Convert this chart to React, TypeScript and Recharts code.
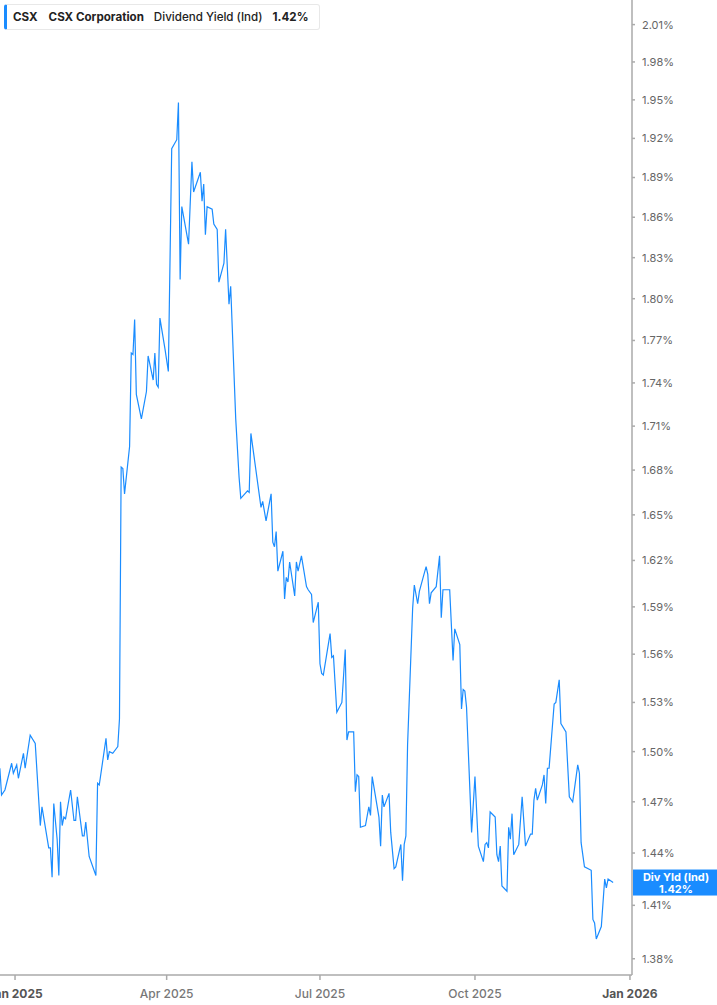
import React from "react"
import { LineChart, Line, XAxis, YAxis, ReferenceLine } from "recharts"

const dates = [
  "2024-12-23", "2024-12-24", "2024-12-26", "2024-12-30", "2024-12-31",
  "2025-01-02", "2025-01-03", "2025-01-06", "2025-01-07", "2025-01-10",
  "2025-01-13", "2025-01-16", "2025-01-17", "2025-01-21", "2025-01-22",
  "2025-01-23", "2025-01-24", "2025-01-26", "2025-01-27", "2025-01-28",
  "2025-01-29", "2025-01-30", "2025-01-31", "2025-02-03", "2025-02-05",
  "2025-02-06", "2025-02-07", "2025-02-10", "2025-02-11", "2025-02-12",
  "2025-02-14", "2025-02-18", "2025-02-19", "2025-02-20", "2025-02-24",
  "2025-02-25", "2025-02-26", "2025-02-28", "2025-03-03", "2025-03-04",
  "2025-03-05", "2025-03-06", "2025-03-07", "2025-03-10", "2025-03-11",
  "2025-03-12", "2025-03-13", "2025-03-14", "2025-03-17", "2025-03-20",
  "2025-03-21", "2025-03-24", "2025-03-25", "2025-03-26", "2025-03-27",
  "2025-03-28", "2025-03-31", "2025-04-02", "2025-04-04", "2025-04-07",
  "2025-04-08", "2025-04-09", "2025-04-10", "2025-04-14", "2025-04-16",
  "2025-04-17", "2025-04-21", "2025-04-22", "2025-04-23", "2025-04-24",
  "2025-04-25", "2025-04-28", "2025-04-29", "2025-05-01", "2025-05-02",
  "2025-05-05", "2025-05-06", "2025-05-08", "2025-05-09", "2025-05-12",
  "2025-05-14", "2025-05-15", "2025-05-19", "2025-05-20", "2025-05-21",
  "2025-05-27", "2025-05-28", "2025-05-30", "2025-06-02", "2025-06-03",
  "2025-06-04", "2025-06-05", "2025-06-06", "2025-06-09", "2025-06-10",
  "2025-06-11", "2025-06-12", "2025-06-13", "2025-06-16", "2025-06-17",
  "2025-06-18", "2025-06-20", "2025-06-23", "2025-06-24", "2025-06-26",
  "2025-06-27", "2025-06-30", "2025-07-01", "2025-07-02", "2025-07-03",
  "2025-07-07", "2025-07-08", "2025-07-09", "2025-07-11", "2025-07-14",
  "2025-07-16", "2025-07-17", "2025-07-18", "2025-07-21", "2025-07-22",
  "2025-07-23", "2025-07-24", "2025-07-25", "2025-07-28", "2025-07-30",
  "2025-07-31", "2025-08-01", "2025-08-05", "2025-08-06", "2025-08-07",
  "2025-08-08", "2025-08-11", "2025-08-12", "2025-08-14", "2025-08-15",
  "2025-08-18", "2025-08-19", "2025-08-20", "2025-08-21", "2025-08-22",
  "2025-08-25", "2025-08-26", "2025-08-28", "2025-08-29", "2025-08-31",
  "2025-09-02", "2025-09-03", "2025-09-04", "2025-09-05", "2025-09-08",
  "2025-09-10", "2025-09-11", "2025-09-12", "2025-09-15", "2025-09-16",
  "2025-09-18", "2025-09-19", "2025-09-22", "2025-09-23", "2025-09-24",
  "2025-09-25", "2025-09-26", "2025-09-29", "2025-10-01", "2025-10-03",
  "2025-10-06", "2025-10-07", "2025-10-08", "2025-10-09", "2025-10-10",
  "2025-10-13", "2025-10-14", "2025-10-15", "2025-10-16", "2025-10-17",
  "2025-10-20", "2025-10-21", "2025-10-22", "2025-10-23", "2025-10-24",
  "2025-10-27", "2025-10-29", "2025-10-31", "2025-11-03", "2025-11-04",
  "2025-11-05", "2025-11-06", "2025-11-07", "2025-11-10", "2025-11-11",
  "2025-11-12", "2025-11-13", "2025-11-14", "2025-11-17", "2025-11-18",
  "2025-11-20", "2025-11-21", "2025-11-24", "2025-11-26", "2025-11-28",
  "2025-12-01", "2025-12-02", "2025-12-03", "2025-12-05", "2025-12-09",
  "2025-12-10", "2025-12-11", "2025-12-12", "2025-12-15", "2025-12-17",
  "2025-12-18", "2025-12-19", "2025-12-22",
]

const yields = [
  1.490, 1.474, 1.477, 1.493, 1.487,
  1.492, 1.484, 1.499, 1.490, 1.510,
  1.505, 1.456, 1.467, 1.443, 1.443,
  1.426, 1.469, 1.448, 1.427, 1.470,
  1.456, 1.461, 1.460, 1.477, 1.459,
  1.459, 1.473, 1.450, 1.450, 1.458,
  1.438, 1.427, 1.481, 1.480, 1.508,
  1.495, 1.500, 1.499, 1.503, 1.520,
  1.682, 1.681, 1.664, 1.696, 1.761,
  1.760, 1.785, 1.732, 1.715, 1.734,
  1.759, 1.742, 1.761, 1.739, 1.737,
  1.786, 1.764, 1.748, 1.912, 1.919,
  1.948, 1.814, 1.868, 1.840, 1.902,
  1.879, 1.894, 1.872, 1.885, 1.847,
  1.868, 1.866, 1.855, 1.851, 1.812,
  1.826, 1.851, 1.796, 1.809, 1.715,
  1.675, 1.661, 1.666, 1.665, 1.705,
  1.655, 1.659, 1.646, 1.664, 1.632,
  1.629, 1.639, 1.613, 1.626, 1.595,
  1.609, 1.606, 1.619, 1.597, 1.619,
  1.613, 1.623, 1.603, 1.601, 1.598,
  1.580, 1.593, 1.554, 1.548, 1.547,
  1.573, 1.558, 1.559, 1.524, 1.530,
  1.563, 1.507, 1.512, 1.512, 1.476,
  1.486, 1.485, 1.455, 1.456, 1.467,
  1.462, 1.485, 1.461, 1.444, 1.474,
  1.467, 1.475, 1.452, 1.431, 1.432,
  1.445, 1.424, 1.445, 1.450, 1.504,
  1.589, 1.604, 1.592, 1.600, 1.608,
  1.616, 1.611, 1.592, 1.599, 1.603,
  1.623, 1.583, 1.601, 1.601, 1.601,
  1.556, 1.576, 1.566, 1.526, 1.538,
  1.537, 1.527, 1.452, 1.485, 1.444,
  1.435, 1.445, 1.446, 1.443, 1.464,
  1.461, 1.439, 1.435, 1.444, 1.421,
  1.418, 1.455, 1.448, 1.463, 1.439,
  1.445, 1.473, 1.444, 1.451, 1.451,
  1.471, 1.478, 1.471, 1.480, 1.486,
  1.469, 1.490, 1.490, 1.529, 1.530,
  1.544, 1.517, 1.512, 1.473, 1.470,
  1.492, 1.487, 1.446, 1.432, 1.430,
  1.402, 1.400, 1.391, 1.398, 1.425,
  1.420, 1.425, 1.423,
]

const yTicks = [
  1.38, 1.41, 1.44, 1.47, 1.5, 1.53, 1.56, 1.59, 1.62, 1.65, 1.68,
  1.71, 1.74, 1.77, 1.8, 1.83, 1.86, 1.89, 1.92, 1.95, 1.98, 2.01,
]

const xTickDates = ["2025-01-01", "2025-04-01", "2025-07-01", "2025-10-01", "2026-01-01"]
const xTickLabels = ["Jan 2025", "Apr 2025", "Jul 2025", "Oct 2025", "Jan 2026"]

const toTs = (d: string) => Date.parse(d + "T00:00:00Z")

const data = dates.map((d, i) => ({ t: toTs(d), v: yields[i] }))
const xTicks = xTickDates.map(toTs)
const last = yields[yields.length - 1]

const FONT = "Inter, 'Noto Sans', sans-serif"
const BLUE = "#1a8cff"

function XTick(props: any) {
  const { x, y, payload } = props
  const i = xTicks.indexOf(payload.value)
  const label = i >= 0 ? xTickLabels[i] : ""
  const isYear = label.startsWith("Jan")
  return (
    <text
      x={x}
      y={y + 16}
      textAnchor="middle"
      fontFamily={FONT}
      fontSize={12}
      fontWeight={isYear ? 700 : 500}
      fill={isYear ? "#555" : "#777"}
    >
      {label}
    </text>
  )
}

function LastValueLabel(props: any) {
  const { viewBox } = props
  const x = viewBox.x + viewBox.width + 1
  const cy = viewBox.y
  return (
    <g>
      <rect x={x} y={cy - 13} width={85} height={26} fill={BLUE} />
      <text x={x + 43} y={cy - 2} textAnchor="middle" fill="#fff" fontFamily={FONT} fontSize={11} fontWeight={700}>
        Div Yld (Ind)
      </text>
      <text x={x + 43} y={cy + 10} textAnchor="middle" fill="#fff" fontFamily={FONT} fontSize={11} fontWeight={700}>
        {last.toFixed(2)}%
      </text>
    </g>
  )
}

export default function App() {
  return (
    <div style={{ position: "absolute", left: 0, top: 0, width: 717, height: 1005, background: "#fff", fontFamily: FONT }}>
      <LineChart width={717} height={1005} data={data} margin={{ top: 0, right: 0, bottom: 0, left: 0 }}>
        <XAxis
          dataKey="t"
          type="number"
          scale="time"
          domain={[Date.UTC(2024, 11, 23, 2), Date.UTC(2026, 0, 2, 5)]}
          ticks={xTicks}
          tick={<XTick />}
          interval={0}
          height={30}
          stroke="#aaa"
          strokeWidth={1.5}
          tickSize={5}
          allowDataOverflow
        />
        <YAxis
          orientation="right"
          dataKey="v"
          scale="log"
          domain={[1.371, 2.03]}
          ticks={yTicks}
          interval={0}
          allowDataOverflow
          width={85}
          stroke="#aaa"
          strokeWidth={1.5}
          tickSize={3}
          tickMargin={7}
          tick={{ fill: "#666", fontSize: 11, fontFamily: FONT }}
          tickFormatter={(v: number) => `${v.toFixed(2)}%`}
        />
        <ReferenceLine y={last} stroke="none" label={<LastValueLabel />} />
        <Line
          type="linear"
          dataKey="v"
          stroke={BLUE}
          strokeWidth={1.2}
          dot={false}
          isAnimationActive={false}
        />
      </LineChart>
      <div
        style={{
          position: "absolute",
          left: 4,
          top: 4,
          width: 316,
          height: 26,
          boxSizing: "border-box",
          border: "1px solid #e8e8e8",
          borderLeft: `3px solid ${BLUE}`,
          borderRadius: 3,
          background: "#fff",
          display: "flex",
          alignItems: "center",
          fontSize: 11.6,
          color: "#222",
          whiteSpace: "nowrap",
        }}
      >
        <span style={{ fontWeight: 700, marginLeft: 6 }}>CSX</span>
        <span style={{ fontWeight: 700, marginLeft: 11 }}>CSX Corporation</span>
        <span style={{ fontWeight: 500, marginLeft: 10 }}>Dividend Yield (Ind)</span>
        <span style={{ fontWeight: 700, marginLeft: 10 }}>{last.toFixed(2)}%</span>
      </div>
    </div>
  )
}
